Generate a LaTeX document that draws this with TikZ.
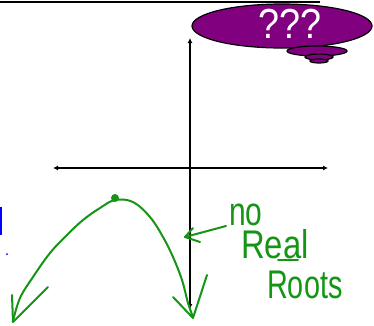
\documentclass[tikz,border=0pt]{standalone}
\usepackage{fontspec}
\setmainfont{Liberation Sans}
\usetikzlibrary{arrows.meta,shapes.geometric}
\definecolor{bubblepurple}{RGB}{128,0,128}
\definecolor{pen}{RGB}{20,150,20}
\begin{document}
\begin{tikzpicture}[x=1pt,y=-1pt,
  axis/.style={line width=1.6pt,{Latex[length=5pt,width=5pt]}-{Latex[length=5pt,width=5pt]}},
  penline/.style={draw=pen,line width=2pt,line cap=round,line join=round},
  hand/.style={text=pen,font=\fontsize{40}{40}\selectfont,inner sep=0pt,anchor=base west,text height=29pt,text depth=0pt},
  bubble/.style={ellipse,draw=black,line width=1.2pt,fill=bubblepurple,inner sep=0pt}]
\useasboundingbox (0,0) rectangle (374,325);
% top rule
\draw[line width=2pt] (0,2) -- (320,2);
% axes
\coordinate (xl) at (53,168);
\coordinate (xr) at (328,168);
\coordinate (yb) at (190,309);
\coordinate (yt) at (190,38);
\draw[axis] (xl) -- (xr);
\draw[axis] (yb) -- (yt);
% thought bubble
\node[bubble,minimum width=180pt,minimum height=44pt] (big) at (282,26) {};
\node[bubble,minimum width=60pt,minimum height=10pt] (b1) at (317,51) {};
\node[bubble,minimum width=28pt,minimum height=6pt] (b2) at (319,57) {};
\node[bubble,minimum width=18pt,minimum height=4pt] (b3) at (319,61) {};
\node[text=white,font=\fontsize{42}{42}\selectfont,inner sep=0pt] (q) at (290,24) {\scalebox{0.9}[1]{???}};
% parabola
\draw[penline] plot[smooth,tension=0.6] coordinates {(13,321) (20,298) (33,277) (50,253) (67,235) (83,220) (100,208) (115,200) (133,202) (150,217) (163,237) (173,257) (182,280) (188,303) (193,317)};
\fill[pen] (115,198) circle (4);
\coordinate (lt) at (13,322);
\draw[penline] (12,295) -- (lt) -- (48,287);
\coordinate (rt) at (193,318);
\draw[penline] (173,297) -- (rt) -- (207,275);
% label
\node[hand,text height=20pt] (no) at (229,225) {\scalebox{0.75}[1]{no}};
\node[hand] (real) at (241,258) {\scalebox{0.82}[1]{Real}};
\node[hand] (roots) at (267,298) {\scalebox{0.72}[1]{Roots}};
\draw[penline] (278,260) -- (298,260);
\coordinate (pt) at (185,237);
\draw[penline] (226,226) -- (pt);
\draw[penline] (193,228) -- (pt) -- (200,242);
% blue marks
\draw[blue,line width=2.5pt] (1,207) -- (1,235);
\fill[blue] (7,254) circle (1);
\end{tikzpicture}
\end{document}
